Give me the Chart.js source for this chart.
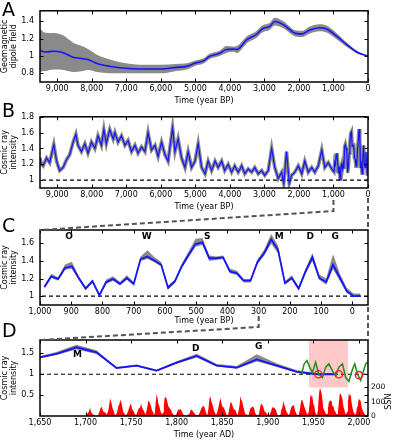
<!DOCTYPE html>
<html><head><meta charset="utf-8">
<script src="https://cdn.jsdelivr.net/npm/chart.js@4.4.1/dist/chart.umd.min.js"></script>
<style>
html,body{margin:0;padding:0;background:#fff;}
#wrap{position:relative;width:393px;height:440px;overflow:hidden;background:#fff;}
canvas.c{position:absolute;left:0;}
.lab{position:absolute;font-family:"DejaVu Sans";font-size:19px;line-height:19px;color:#000;}
</style></head><body>
<div id="wrap">
<canvas id="cA" class="c" style="top:0px" width="393" height="106"></canvas>
<canvas id="cB" class="c" style="top:106px" width="393" height="106"></canvas>
<canvas id="cC" class="c" style="top:212px" width="393" height="114"></canvas>
<canvas id="cD" class="c" style="top:326px" width="393" height="114"></canvas>
<canvas id="ov" style="position:absolute;left:0;top:0;pointer-events:none" width="393" height="440"></canvas>
<div class="lab" style="left:2px;top:0px">A</div>
<div class="lab" style="left:2px;top:101px">B</div>
<div class="lab" style="left:2px;top:216px">C</div>
<div class="lab" style="left:2px;top:321px">D</div>
</div>
<script>
// ---------------- DATA ----------------
// Panel A: geomagnetic dipole field (year BP)
const aBP    = [9500,9350,9100,8850,8550,8250,8100,7850,7500,7100,
                6600,6000,5550,5250,5000,4750,4600,4300,4100,3900,
                3800,3500,3250,3050,2850,2700,2450,2100,1900,1700,
                1400,1200,900,600,300,0];
const aField = [1.064,1.046,1.054,1.04,0.986,0.968,0.957,0.914,0.882,0.861,
                0.85,0.85,0.868,0.88,0.918,0.946,0.993,1.03,1.075,1.079,
                1.075,1.19,1.243,1.314,1.34,1.396,1.36,1.26,1.254,1.296,
                1.325,1.31,1.225,1.125,1.04,1.0];
const aErr   = [0.245,0.22,0.21,0.2,0.17,0.14,0.12,0.1,0.08,0.06,
                0.05,0.05,0.04,0.035,0.03,0.03,0.03,0.03,0.04,0.03,
                0.04,0.04,0.04,0.04,0.04,0.045,0.04,0.035,0.035,0.04,
                0.04,0.04,0.035,0.025,0.015,0.005];

// Panel B: cosmic ray intensity, 9500 - 1050 BP (the last millennium is the panel C series)
const bOldBP  = [9500,9460,9410,9310,9220,9100,9020,8930,8830,8730,
                 8640,8540,8460,8400,8300,8200,8110,8010,7910,7820,
                 7720,7650,7580,7480,7380,7330,7240,7140,7040,6950,
                 6850,6750,6660,6560,6460,6370,6270,6170,6080,5980,
                 5880,5790,5660,5590,5500,5400,5300,5210,5110,5010,
                 4920,4820,4720,4630,4530,4430,4340,4240,4150,4050,
                 3950,3860,3760,3660,3570,3470,3370,3280,3180,3080,
                 2990,2890,2790,2700,2600,2500,2440,2360,2280,2210,
                 2120,2020,1920,1830,1730,1630,1540,1440,1340,1250,
                 1150,1050];
const bOldVal = [1.28,1.2,1.18,1.28,1.22,1.45,1.24,1.12,1.16,1.26,
                 1.32,1.48,1.58,1.44,1.36,1.46,1.34,1.48,1.4,1.56,
                 1.44,1.64,1.46,1.64,1.52,1.6,1.48,1.56,1.44,1.5,
                 1.36,1.44,1.34,1.42,1.36,1.6,1.38,1.44,1.3,1.48,
                 1.32,1.24,1.66,1.36,1.52,1.28,1.16,1.36,1.16,1.24,
                 1.46,1.16,1.08,1.24,1.12,1.24,1.16,1.24,1.12,1.2,
                 1.1,1.18,1.1,1.18,1.08,1.14,1.1,1.16,1.08,1.12,
                 1.06,1.12,1.4,1.16,1.02,1.1,0.96,1.36,0.96,1.06,
                 1.1,1.18,1.08,1.24,1.1,1.16,1.1,1.18,1.38,1.16,
                 1.22,1.14];

// Panel C / D: 22-year resolution cosmic ray intensity (year BP)
const cBP  = [986,964,942,920,898,876,854,832,810,788,
              766,744,722,700,678,656,634,612,590,568,
              546,524,502,480,458,436,414,392,370,348,
              326,304,282,260,238,216,194,172,150,128,
              106,84,62,40,18,-4,-26];
const cVal = [1.105,1.225,1.195,1.32,1.34,1.206,1.086,1.17,1.01,1.16,
              1.195,1.14,1.206,1.14,1.42,1.45,1.405,1.356,1.094,1.17,
              1.34,1.47,1.59,1.61,1.43,1.43,1.44,1.28,1.26,1.176,
              1.176,1.386,1.49,1.645,1.525,1.15,1.206,1.086,1.28,1.44,
              1.206,1.16,1.356,1.206,1.056,1.0,1.0];
const cUp  = [0.02,0.03,0.02,0.04,0.05,0.02,0.02,0.02,0.02,0.03,
              0.03,0.02,0.03,0.02,0.03,0.07,0.04,0.03,0.03,0.02,
              0.03,0.04,0.06,0.05,0.03,0.02,0.02,0.03,0.03,0.02,
              0.02,0.03,0.04,0.06,0.05,0.02,0.03,0.02,0.03,0.05,
              0.04,0.04,0.12,0.05,0.04,0.03,0.03];
const cDn  = [0.02,0.02,0.02,0.02,0.03,0.02,0.02,0.02,0.02,0.02,
              0.02,0.02,0.02,0.02,0.02,0.03,0.02,0.02,0.02,0.02,
              0.02,0.03,0.03,0.03,0.03,0.02,0.02,0.02,0.02,0.02,
              0.02,0.02,0.03,0.05,0.04,0.02,0.02,0.02,0.03,0.04,
              0.02,0.03,0.05,0.03,0.02,0.01,0.01];
const cEvents   = ['O','W','S','M','D','G'];
const cEventBP  = [907,658,465,234,135,55];
const cEventY   = 1.67;
const dEvents   = ['M','D','G'];
const dEventAD  = [1691,1821,1890];
const dEventY   = [1.46,1.62,1.65];

// Panel D extras (year AD)
const gYears = [1937,1940,1943,1946,1949,1952.5,1956,1960,1963.5,1967,
                1971,1974.5,1978,1982,1985.5,1989,1993,1995.5,1998.5,2002,
                2005,2007.5,2010];
const gVals  = [1.0,1.25,1.33,1.17,1.04,1.29,1.0,0.92,1.17,1.25,
                1.08,0.96,1.17,1.25,0.92,0.83,1.12,1.25,1.0,0.85,
                1.08,1.25,1.29];
const rYears = [1955.5,1978,2000];
const rVals  = [1.0,1.0,0.98];
const pinkYears = [1945,1988];
const pinkRange = [0.68,1.82];
const refLevel = 1;
// yearly sunspot number 1700-2010
const ssnStart = 1700;
const ssn = [5,11,16,23,36,58,29,20,10,8,
  3,0,0,2,11,27,47,63,60,39,
  28,26,22,11,21,40,78,122,103,73,
  47,35,11,5,16,34,70,81,111,101,
  73,40,20,16,5,11,22,40,60,81,
  83,48,48,31,12,10,10,32,48,54,
  63,86,61,45,36,21,11,38,70,106,
  101,82,67,35,31,7,20,93,154,126,
  85,68,39,23,10,24,83,132,131,118,
  90,67,60,47,41,21,16,6,4,7,
  15,34,45,43,48,42,28,10,8,3,
  0,1,5,12,14,35,46,41,30,24,
  16,7,4,2,9,17,36,50,64,67,
  71,48,28,9,13,57,122,138,103,86,
  65,37,24,11,15,40,62,99,125,96,
  67,65,54,39,21,7,4,23,55,94,
  96,77,59,44,47,31,16,7,38,74,
  139,111,102,66,45,17,11,12,3,6,
  32,54,60,64,64,52,25,13,7,6,
  7,36,73,85,78,64,42,26,27,12,
  10,3,5,24,42,64,54,62,49,44,
  19,6,4,1,10,47,57,104,81,64,
  38,26,14,6,17,44,64,69,78,65,
  36,21,11,6,9,36,80,114,110,89,
  68,48,31,16,10,33,93,152,136,135,
  84,69,32,14,4,38,142,190,185,159,
  112,54,38,28,10,15,47,94,106,106,
  105,67,69,38,35,16,13,28,93,155,
  155,140,116,67,46,18,13,29,100,158,
  143,146,94,55,30,18,9,22,64,93,
  120,111,104,64,40,30,15,8,3,3,
  17];

// tick values
const bpTicks = [0,1000,2000,3000,4000,5000,6000,7000,8000,9000];
const cTicks  = [0,100,200,300,400,500,600,700,800,900,1000];
const dTicks  = [1650,1700,1750,1800,1850,1900,1950,2000];
const aYTicks = [0.8,1,1.2,1.4];
const bYTicks = [1,1.2,1.4,1.6,1.8];
const cYTicks = [1,1.2,1.4,1.6];
const dYTicks = [0.5,1,1.5];
const ssnTicks = [0,100,200];

// ---------------- STYLE ----------------
const FONT = 'DejaVu Sans';
const BLUE = '#1414ff';
const GREY = '#8a8a8a';
const tickFont = {family: FONT, size: 8};
const titleFont = {family: FONT, size: 8, lineHeight: 1.05};
const noGrid = {display: false, drawTicks: false, tickLength: 0};
const comma = v => { const s = String(Math.abs(v)); return (v<0?'-':'') + s.replace(/\B(?=(\d{3})+(?!\d))/g, ','); };
const fmtY = v => (Math.abs(v-1)<1e-9 ? '1' : String(Math.round(v*10)/10));
const pts = (xs, ys) => xs.map((x,i)=>({x, y: ys[i]}));

const framePlugin = {
  id: 'frame',
  afterDatasetsDraw(chart) {
    const {ctx, chartArea: a, scales} = chart;
    const L = 3.5;
    ctx.save();
    ctx.strokeStyle = '#000';
    ctx.lineWidth = 1;
    ctx.beginPath();
    const xs = scales.x;
    xs.ticks.forEach(t => { const p = Math.round(xs.getPixelForValue(t.value)) + 0.5;
      ctx.moveTo(p, a.bottom); ctx.lineTo(p, a.bottom - L); ctx.moveTo(p, a.top); ctx.lineTo(p, a.top + L); });
    const ys = scales.y;
    ys.ticks.forEach(t => { const p = Math.round(ys.getPixelForValue(t.value)) + 0.5;
      ctx.moveTo(a.left, p); ctx.lineTo(a.left + L, p); ctx.moveTo(a.right, p); ctx.lineTo(a.right - L, p); });
    if (scales.y2) scales.y2.ticks.forEach(t => { const p = Math.round(scales.y2.getPixelForValue(t.value)) + 0.5;
      ctx.moveTo(a.right, p); ctx.lineTo(a.right - L, p); });
    ctx.stroke();
    ctx.lineWidth = 1.5;
    ctx.strokeRect(a.left, a.top, a.width, a.height);
    const o = chart.options.plugins.extras || {};
    if (o.labels) {
      ctx.fillStyle = '#000';
      ctx.font = 'bold 9px "' + FONT + '"';
      ctx.textAlign = 'center'; ctx.textBaseline = 'middle';
      o.labels.forEach((s, i) => ctx.fillText(s, xs.getPixelForValue(o.xs[i]), ys.getPixelForValue(Array.isArray(o.y) ? o.y[i] : o.y)));
    }
    if (o.ssnTitle && scales.y2) {
      const yc = scales.y2.getPixelForValue(100);
      ctx.translate(chart.width - 4, yc);
      ctx.rotate(-Math.PI/2);
      ctx.fillStyle = '#000';
      ctx.font = '8px "' + FONT + '"';
      ctx.textAlign = 'center'; ctx.textBaseline = 'middle';
      ctx.fillText(o.ssnTitle, 0, 0);
    }
    ctx.restore();
  }
};

function xAxis(min, max, reverse, ticks, title, h) {
  return {
    type: 'linear', min, max, reverse,
    grid: noGrid, border: {display: false},
    afterBuildTicks: s => { s.ticks = ticks.map(v => ({value: v})); },
    afterFit: s => { s.height = h; },
    ticks: {font: tickFont, color: '#000', padding: 2, maxRotation: 0, autoSkip: false, callback: v => comma(v)},
    title: {display: true, text: title, font: {family: FONT, size: 8}, color: '#000', padding: {top: 0, bottom: 0}}
  };
}
function yAxis(min, max, ticks, title) {
  return {
    type: 'linear', min, max,
    grid: noGrid, border: {display: false},
    afterBuildTicks: s => { s.ticks = ticks.map(v => ({value: v})); },
    afterFit: s => { s.width = 40; },
    ticks: {font: tickFont, color: '#000', padding: 6, autoSkip: false, callback: v => fmtY(v)},
    title: {display: true, text: title, font: titleFont, color: '#000', padding: {top: 1, bottom: 0}}
  };
}
function baseOptions(padTop, padRight, scales, extras) {
  return {
    responsive: false, animation: false, events: [],
    layout: {padding: {top: padTop, right: padRight, left: 0, bottom: 0}},
    plugins: {legend: {display: false}, tooltip: {enabled: false}, extras: extras || {}},
    elements: {point: {radius: 0}},
    scales
  };
}
const lineDS = (data, color, width, extra) => Object.assign({data, borderColor: color, borderWidth: width, pointRadius: 0, fill: false, tension: 0}, extra || {});
const noLine = 'rgba(0,0,0,0)';

// ---------------- PANEL A ----------------
const chartA = new Chart(document.getElementById('cA'), {
  type: 'line',
  data: {datasets: [
    lineDS(pts(aBP, aField), BLUE, 1.6, {cubicInterpolationMode: 'monotone'}),
    lineDS(pts(aBP, aField.map((v,i)=>v+aErr[i])), noLine, 0, {fill: '+1', backgroundColor: GREY, cubicInterpolationMode: 'monotone'}),
    lineDS(pts(aBP, aField.map((v,i)=>v-aErr[i])), noLine, 0, {cubicInterpolationMode: 'monotone'})
  ]},
  options: baseOptions(6, 25, {
    x: xAxis(0, 9500, true, bpTicks, 'Time (year BP)', 24),
    y: yAxis(0.7, 1.52, aYTicks, ['Geomagnetic', 'dipole field'])
  }),
  plugins: [framePlugin]
});

// ---------------- PANEL B ----------------
const bBP = bOldBP.concat(cBP.filter(v => v >= 0));
const bVal = bOldVal.concat(cVal.filter((v,i) => cBP[i] >= 0));
const chartB = new Chart(document.getElementById('cB'), {
  type: 'line',
  data: {datasets: [
    lineDS([{x: 0, y: refLevel}], '#1e9a1e', 0, {showLine: false, pointRadius: 3.5, pointStyle: 'triangle', rotation: -90, backgroundColor: '#1e9a1e', pointBorderColor: '#1e9a1e'}),
    lineDS(pts(bBP, bVal), BLUE, 1.2),
    lineDS([{x: 0, y: refLevel}, {x: 9500, y: refLevel}], '#000', 1.2, {borderDash: [4, 3]}),
    lineDS(pts(bBP, bVal), GREY, 3.6)
  ]},
  options: baseOptions(7, 25, {
    x: xAxis(0, 9500, true, bpTicks, 'Time (year BP)', 24),
    y: yAxis(0.9, 1.8, bYTicks, ['Cosmic ray', 'intensity'])
  }),
  plugins: [framePlugin]
});

// ---------------- PANEL C ----------------
const chartC = new Chart(document.getElementById('cC'), {
  type: 'line',
  data: {datasets: [
    lineDS(pts(cBP, cVal), BLUE, 1.8),
    lineDS([{x: -50, y: refLevel}, {x: 1000, y: refLevel}], '#000', 1.2, {borderDash: [4, 3]}),
    lineDS(pts(cBP, cVal.map((v,i)=>v+cUp[i])), noLine, 0, {fill: '+1', backgroundColor: GREY}),
    lineDS(pts(cBP, cVal.map((v,i)=>v-cDn[i])), noLine, 0)
  ]},
  options: baseOptions(18, 25, {
    x: xAxis(-50, 1000, true, cTicks, 'Time (year BP)', 21),
    y: yAxis(0.9, 1.75, cYTicks, ['Cosmic ray', 'intensity'])
  }, {labels: cEvents, xs: cEventBP, y: cEventY}),
  plugins: [framePlugin]
});

// ---------------- PANEL D ----------------
const dAD = cBP.map(b => 1950 - b);
const ssnPts = ssn.map((v,i) => ({x: ssnStart + i, y: v}));
const yD = yAxis(0, 1.82, dYTicks, ['Cosmic ray', 'intensity']);
const chartD = new Chart(document.getElementById('cD'), {
  type: 'line',
  data: {datasets: [
    lineDS(pts(rYears, rVals), '#ff0000', 0, {showLine: false, pointRadius: 3.6, pointStyle: 'circle', pointBorderColor: '#ff1a1a', pointBorderWidth: 1.4, pointBackgroundColor: noLine}),
    lineDS(pts(gYears, gVals), '#1e8c1e', 1.5),
    lineDS(pts(dAD, cVal), BLUE, 1.8),
    lineDS([{x: 1650, y: refLevel}, {x: 2010, y: refLevel}], '#000', 1.2, {borderDash: [4, 3]}),
    lineDS(pts(dAD, cVal.map((v,i)=>v+cUp[i])), noLine, 0, {fill: '+1', backgroundColor: GREY}),
    lineDS(pts(dAD, cVal.map((v,i)=>v-cDn[i])), noLine, 0),
    lineDS([{x: pinkYears[0], y: pinkRange[1]}, {x: pinkYears[1], y: pinkRange[1]}], noLine, 0, {fill: {value: pinkRange[0]}, backgroundColor: '#ffc9c9'}),
    lineDS(ssnPts, noLine, 0, {yAxisID: 'y2', fill: 'origin', backgroundColor: '#ff0000'})
  ]},
  options: baseOptions(14, 0, {
    x: xAxis(1650, 2010, false, dTicks, 'Time (year AD)', 24),
    y: yD,
    y2: {
      type: 'linear', position: 'right', min: 0, max: 530,
      grid: noGrid, border: {display: false},
      afterBuildTicks: s => { s.ticks = ssnTicks.map(v => ({value: v})); },
      afterFit: s => { s.width = 25; },
      ticks: {font: {family: FONT, size: 7.5}, color: '#000', padding: 3, autoSkip: false, callback: v => String(v)}
    }
  }, {labels: dEvents, xs: dEventAD, y: dEventY, ssnTitle: 'SSN'}),
  plugins: [framePlugin]
});

// ---------------- CONNECTORS ----------------
(function(){
  const ov = document.getElementById('ov').getContext('2d');
  const offB = 106, offC = 212, offD = 326;
  const aB = chartB.chartArea, aC = chartC.chartArea, aD = chartD.chartArea;
  const bx1000 = chartB.scales.x.getPixelForValue(1000);
  const bx0 = chartB.scales.x.getPixelForValue(0);
  const cx300 = chartC.scales.x.getPixelForValue(300);
  ov.strokeStyle = '#555';
  ov.lineWidth = 2;
  ov.setLineDash([5, 3]);
  ov.beginPath();
  ov.moveTo(bx1000, offB + aB.bottom + 12); ov.lineTo(bx1000, offB + aB.bottom + 23); ov.lineTo(aC.left, offC + aC.top);
  ov.moveTo(bx0, offB + aB.bottom + 10); ov.lineTo(aC.right, offC + aC.top);
  ov.moveTo(cx300, offC + aC.bottom + 11); ov.lineTo(cx300, offC + aC.bottom + 22); ov.lineTo(aD.left, offD + aD.top);
  ov.moveTo(aC.right, offC + aC.bottom + 2); ov.lineTo(aD.right, offD + aD.top);
  ov.stroke();
})();
</script>
</body></html>
